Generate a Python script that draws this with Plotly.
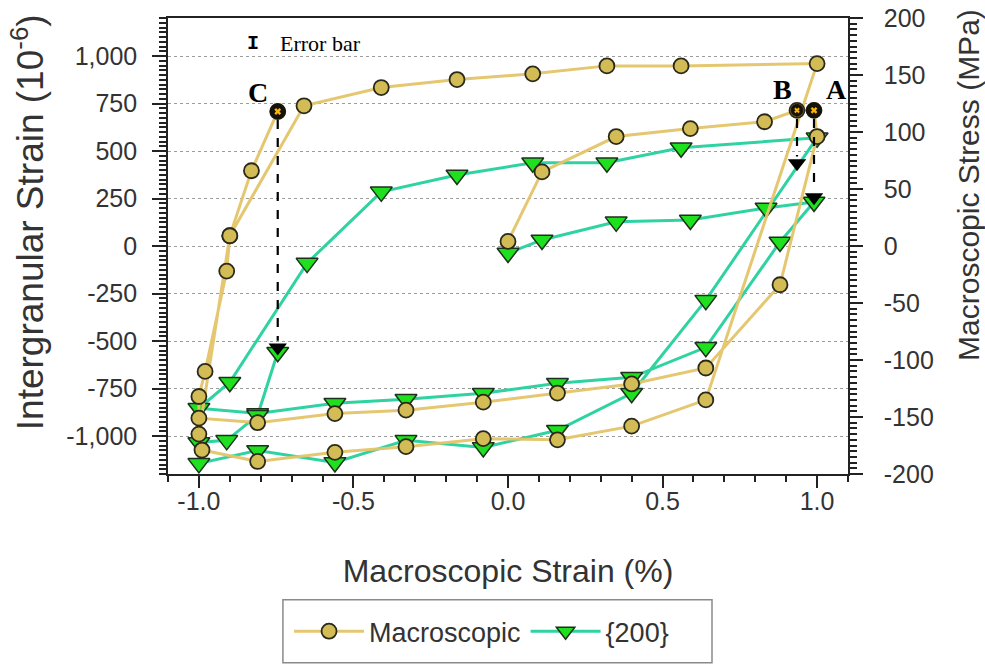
import plotly.graph_objects as go

# ---------------- data ----------------
# Macroscopic stress-strain path (strain %, stress MPa)
macro_strain = [0.00, 0.11, 0.35, 0.59, 0.83, 0.935, 0.99, 1.00,
                0.88, 0.64, 0.40, 0.16, -0.08, -0.33, -0.56, -0.81, -1.00, -1.00,
                -0.98, -0.91, -0.90, -0.66, -0.41, -0.165, 0.08, 0.32, 0.56, 1.00,
                0.64, 0.40, 0.16, -0.08, -0.33, -0.56, -0.81, -0.99, -1.00,
                -0.90, -0.83, -0.745]
macro_stress = [4, 65, 96, 103, 109, 119, 119, 96,
                -34, -107, -121, -129, -137, -144, -147, -155, -151, -132,
                -110, -22, 9, 123, 139, 146, 151, 158, 158, 160,
                -135, -158, -170, -169, -176, -181, -189, -179, -165,
                9, 66, 118]

# {200} intergranular strain path (strain %, 1e-6)
g200_strain = [0.00, 0.11, 0.35, 0.59, 0.835, 0.99,
               0.88, 0.64, 0.40, 0.16, -0.08, -0.33, -0.56, -0.81, -1.00,
               -0.90, -0.65, -0.41, -0.165, 0.08, 0.32, 0.56, 1.00,
               0.64, 0.40, 0.16, -0.08, -0.33, -0.56, -0.81, -1.00,
               -1.00, -0.91, -0.81, -0.745]
g200_value = [-37, 32, 127, 137, 200, 232,
              21, -533, -691, -722, -775, -807, -828, -881, -854,
              -717, -90, 285, 374, 438, 438, 517, 570,
              -285, -775, -970, -1060, -1023, -1139, -1076, -1144,
              -1034, -1023, -891, -559]

# Marked points A, B, C
abc_labels = ["A", "B", "C"]
abc_strain = [0.99, 0.935, -0.745]
abc_stress = [119, 119, 118]
abc_g200 = [232, 411, -559]
abc_label_shift = [(22, 21), (-15, 21), (-20, 19)]

# Axes
X_RANGE = [-1.1, 1.1]
LEFT_RANGE = [-1200, 1200]
RIGHT_RANGE = [-200, 200]
x_tickvals = [-1.0, -0.5, 0.0, 0.5, 1.0]
x_ticktext = ["-1.0", "-0.5", "0.0", "0.5", "1.0"]
left_tickvals = [-1000, -750, -500, -250, 0, 250, 500, 750, 1000]
left_ticktext = ["-1,000", "-750", "-500", "-250", "0", "250", "500", "750", "1,000"]
right_tickvals = [-200, -150, -100, -50, 0, 50, 100, 150, 200]
right_ticktext = ["-200", "-150", "-100", "-50", "0", "50", "100", "150", "200"]

# ---------------- styles ----------------
SANS = "Liberation Sans, Arial, sans-serif"
SERIF = "Liberation Serif, Times New Roman, serif"
TXT = "#333333"
TAN_LINE = "rgba(228,196,105,0.95)"
TAN_FILL = "#d3bb55"
TEAL_LINE = "#2fd3a2"
GREEN_FILL = "#1fe01f"
EDGE = "#2a2a1a"

fig = go.Figure()

fig.add_trace(go.Scatter(
    x=g200_strain, y=g200_value, name="{200}", yaxis="y",
    mode="lines+markers",
    line=dict(color=TEAL_LINE, width=3),
    marker=dict(symbol="triangle-down", size=19, color=GREEN_FILL,
                line=dict(color="#1c301c", width=1.5)),
))

# arrow heads (on left axis) pointing at {200} values of A, B, C
fig.add_trace(go.Scatter(
    x=abc_strain, y=[v + 25 for v in abc_g200], yaxis="y", mode="markers",
    marker=dict(symbol="triangle-down", size=16, color="black"),
    showlegend=False, hoverinfo="skip",
))

fig.add_trace(go.Scatter(
    x=macro_strain, y=macro_stress, name="Macroscopic", yaxis="y2",
    mode="lines+markers",
    line=dict(color=TAN_LINE, width=3),
    marker=dict(symbol="circle", size=15, color=TAN_FILL,
                line=dict(color=EDGE, width=1.8)),
))

# A, B, C special markers: dark disc with an orange cross
fig.add_trace(go.Scatter(
    x=abc_strain, y=abc_stress, yaxis="y2", mode="markers",
    marker=dict(symbol="circle", size=[15, 12, 15], color="#15120a", opacity=1,
                line=dict(color="#15120a", width=1)),
    showlegend=False, hoverinfo="skip",
))
fig.add_trace(go.Scatter(
    x=abc_strain, y=abc_stress, yaxis="y2", mode="markers",
    marker=dict(symbol="x", size=[6, 5, 6], color="#ffb400", opacity=1,
                line=dict(width=0)),
    showlegend=False, hoverinfo="skip",
))

# dashed arrows from macroscopic point to {200} point
scale = (LEFT_RANGE[1] - LEFT_RANGE[0]) / (RIGHT_RANGE[1] - RIGHT_RANGE[0])
for xs, st, g in zip(abc_strain, abc_stress, abc_g200):
    fig.add_shape(type="line", xref="x", yref="y",
                  x0=xs, x1=xs, y0=st * scale - 45, y1=g + 60,
                  line=dict(color="black", width=2.2, dash="dash"))

for lab, xs, st, (dx, dy) in zip(abc_labels, abc_strain, abc_stress, abc_label_shift):
    fig.add_annotation(x=xs, y=st, xref="x", yref="y2", text="<b>%s</b>" % lab,
                       showarrow=False, xshift=dx, yshift=dy,
                       font=dict(family=SERIF, size=28, color="black"))

# error bar note
fig.add_annotation(xref="paper", yref="paper", x=0.125, y=0.945, text="<b>I</b>",
                   xanchor="center", yanchor="middle", showarrow=False,
                   font=dict(family="Liberation Mono, monospace", size=20, color="black"))
fig.add_annotation(xref="paper", yref="paper", x=0.162, y=0.945, xanchor="left", yanchor="middle",
                   text="Error bar", showarrow=False,
                   font=dict(family=SERIF, size=22, color="black"))

# y-axis titles (placed as in the original, above the axis centre)
fig.add_annotation(xref="paper", yref="paper", x=-0.206, y=0.552, textangle=-90,
                   xanchor="center", yanchor="middle", showarrow=False,
                   text="Intergranular Strain (10<sup>-6</sup>)",
                   font=dict(family=SANS, size=37, color=TXT))
fig.add_annotation(xref="paper", yref="paper", x=1.178, y=0.634, textangle=-90,
                   xanchor="center", yanchor="middle", showarrow=False,
                   text="Macroscopic Stress (MPa)",
                   font=dict(family=SANS, size=30, color=TXT))

# legend frame
fig.add_shape(type="rect", xref="paper", yref="paper",
              x0=0.169, x1=0.80, y0=-0.414, y1=-0.276,
              line=dict(color="#8a8a8a", width=1.5), fillcolor="rgba(0,0,0,0)")

axis_common = dict(showline=True, linecolor="#222222", linewidth=1.6,
                   ticks="outside", tickcolor="#222222", tickwidth=1.5,
                   zeroline=False, automargin=False,
                   tickfont=dict(family=SANS, size=25, color=TXT))

fig.update_layout(
    width=985, height=666,
    margin=dict(l=168, r=137, t=18, b=192, autoexpand=False),
    paper_bgcolor="white", plot_bgcolor="white",
    xaxis=dict(range=X_RANGE, tickmode="array", tickvals=x_tickvals, ticktext=x_ticktext,
               ticklen=12, mirror=True, showgrid=False, ticklabelstandoff=-8,
               minor=dict(ticks="outside", tick0=0, dtick=0.1, ticklen=6,
                          tickcolor="#222222", showgrid=False),
               title=dict(text="Macroscopic Strain (%)", standoff=46,
                          font=dict(family=SANS, size=32, color=TXT)),
               **axis_common),
    yaxis=dict(range=LEFT_RANGE, tickmode="array", tickvals=left_tickvals, ticktext=left_ticktext,
               ticklen=14, showgrid=True, gridcolor="#9c9c9c", griddash="dot", gridwidth=1.2,
               ticklabelstandoff=10,
               minor=dict(ticks="outside", tick0=0, dtick=25, ticklen=7,
                          tickcolor="#222222", showgrid=False),
               **axis_common),
    yaxis2=dict(range=RIGHT_RANGE, overlaying="y", side="right", anchor="x",
                tickmode="array", tickvals=right_tickvals, ticktext=right_ticktext,
                ticklen=13, showgrid=False, ticklabelstandoff=16,
                minor=dict(ticks="outside", tick0=0, dtick=5, ticklen=7,
                           tickcolor="#222222", showgrid=False),
                **axis_common),
    legend=dict(orientation="h", x=0.178, y=-0.292, xanchor="left", yanchor="top",
                borderwidth=0, bgcolor="rgba(0,0,0,0)",
                font=dict(family=SANS, size=27, color=TXT),
                itemwidth=70, traceorder="reversed"),
    showlegend=True,
)

fig.write_html("out.html", config={"displayModeBar": False},
               post_script="document.body.style.margin='0';")
